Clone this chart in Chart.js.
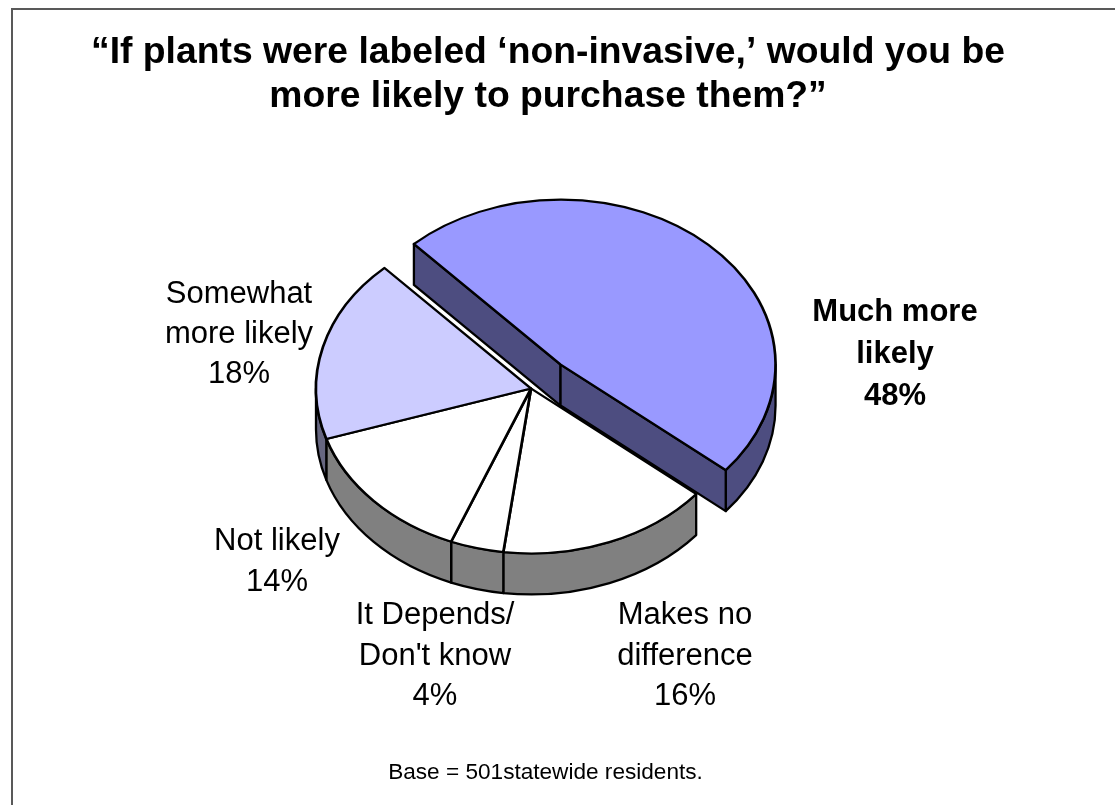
<!DOCTYPE html>
<html>
<head>
<meta charset="utf-8">
<title>Non-invasive plant labels</title>
<script src="https://cdn.jsdelivr.net/npm/chart.js@4/dist/chart.umd.min.js"></script>
<style>
  html, body { margin: 0; padding: 0; background: #fff; }
  canvas { display: block; }
</style>
</head>
<body>
<canvas id="chart" width="1115" height="805"></canvas>
<script>
const titleLines = ["“If plants were labeled ‘non-invasive,’ would you be", "more likely to purchase them?”"];
const footnote = "Base = 501statewide residents.";
const categories = ["Much more likely", "Makes no difference", "It Depends/Don't know", "Not likely", "Somewhat more likely"];
const shares = [48, 16, 4, 14, 18];
const labelLines = [["Much more", "likely"], ["Makes no", "difference"], ["It Depends/", "Don't know"], ["Not likely"], ["Somewhat", "more likely"]];
const topColors = ["#9999FF", "#FFFFFF", "#FFFFFF", "#FFFFFF", "#CCCCFF"];
const wallColors = ["#4D4D80", "#808080", "#808080", "#808080", "#666680"];

const FONT = '"Liberation Sans", Arial, sans-serif';
const TILT = 0.767;      // vertical squash of the pie disc
const DEPTH = 41;        // wall height
const EXPLODE = 43;      // how far the first slice is pulled out
const LINE = 2.3;
const CENTER_Y = 388.5;

// center x / first baseline / line step for each slice label
const labelPlacement = [
  { x: 895, y: 321, step: 42, bold: true },
  { x: 685, y: 624, step: 40.5 },
  { x: 435, y: 624, step: 40.5 },
  { x: 277, y: 550, step: 41 },
  { x: 239, y: 303, step: 40 }
];

const pie3d = {
  id: "pie3d",
  afterDatasetsUpdate(chart) {
    // pull the first slice out along its bisector
    const arc = chart.getDatasetMeta(0).data[0];
    const mid = (arc.startAngle + arc.endAngle) / 2;
    arc.x += Math.cos(mid) * EXPLODE;
    arc.y += Math.sin(mid) * EXPLODE;
  },
  beforeDatasetsDraw(chart) {
    const ctx = chart.ctx;
    const arcs = chart.getDatasetMeta(0).data;
    ctx.save();
    ctx.lineWidth = LINE;
    ctx.strokeStyle = "#000";
    ctx.lineJoin = "round";
    arcs.forEach((arc, i) => {
      const cx = arc.x;
      const cy = CENTER_Y + (arc.y - CENTER_Y) * TILT;
      const rx = arc.outerRadius;
      const ry = rx * TILT;
      ctx.fillStyle = wallColors[i];

      // only the front half of the rim can be seen
      const from = Math.max(arc.startAngle, 0);
      const to = Math.min(arc.endAngle, Math.PI);
      if (to > from) {
        ctx.beginPath();
        ctx.ellipse(cx, cy, rx, ry, 0, from, to);
        ctx.ellipse(cx, cy + DEPTH, rx, ry, 0, to, from, true);
        ctx.closePath();
        ctx.fill();
        ctx.stroke();
      }

      // cut faces of the pulled-out slice
      if (i === 0) {
        [arc.startAngle, arc.endAngle].forEach(a => {
          const px = cx + Math.cos(a) * rx;
          const py = cy + Math.sin(a) * ry;
          ctx.beginPath();
          ctx.moveTo(px, py);
          ctx.lineTo(cx, cy);
          ctx.lineTo(cx, cy + DEPTH);
          ctx.lineTo(px, py + DEPTH);
          ctx.closePath();
          ctx.fill();
          ctx.stroke();
        });
      }
    });
    ctx.restore();

    // slices are drawn by the library on a squashed context
    ctx.save();
    ctx.translate(0, CENTER_Y);
    ctx.scale(1, TILT);
    ctx.translate(0, -CENTER_Y);
  },
  afterDatasetsDraw(chart) {
    chart.ctx.restore();
  },
  afterDraw(chart) {
    const ctx = chart.ctx;
    ctx.save();

    ctx.strokeStyle = "#595959";
    ctx.lineWidth = 2;
    ctx.beginPath();
    ctx.moveTo(12, 805);
    ctx.lineTo(12, 9);
    ctx.lineTo(1115, 9);
    ctx.stroke();

    ctx.fillStyle = "#000";
    ctx.textAlign = "center";
    ctx.textBaseline = "alphabetic";

    ctx.font = `bold 37.3px ${FONT}`;
    titleLines.forEach((line, i) => ctx.fillText(line, 548, 63 + i * 43.5));

    labelLines.forEach((lines, i) => {
      const place = labelPlacement[i];
      ctx.font = `${place.bold ? "bold " : ""}31px ${FONT}`;
      [...lines, shares[i] + "%"].forEach((line, n) => {
        ctx.fillText(line, place.x, place.y + n * place.step);
      });
    });

    ctx.font = `22.6px ${FONT}`;
    ctx.fillText(footnote, 545.5, 779);
    ctx.restore();
  }
};

new Chart(document.getElementById("chart"), {
  type: "pie",
  data: {
    labels: categories,
    datasets: [{
      data: shares,
      backgroundColor: topColors,
      borderColor: "#000",
      borderWidth: LINE + 0.4,
      borderAlign: "center",
      borderJoinStyle: "round",
      clip: false
    }]
  },
  options: {
    responsive: false,
    animation: false,
    events: [],
    rotation: -43,
    radius: 215,
    layout: { padding: { left: 0, right: 53, top: 0, bottom: 28 } },
    plugins: {
      legend: { display: false },
      title: { display: false },
      tooltip: { enabled: false }
    }
  },
  plugins: [pie3d]
});
</script>
</body>
</html>
